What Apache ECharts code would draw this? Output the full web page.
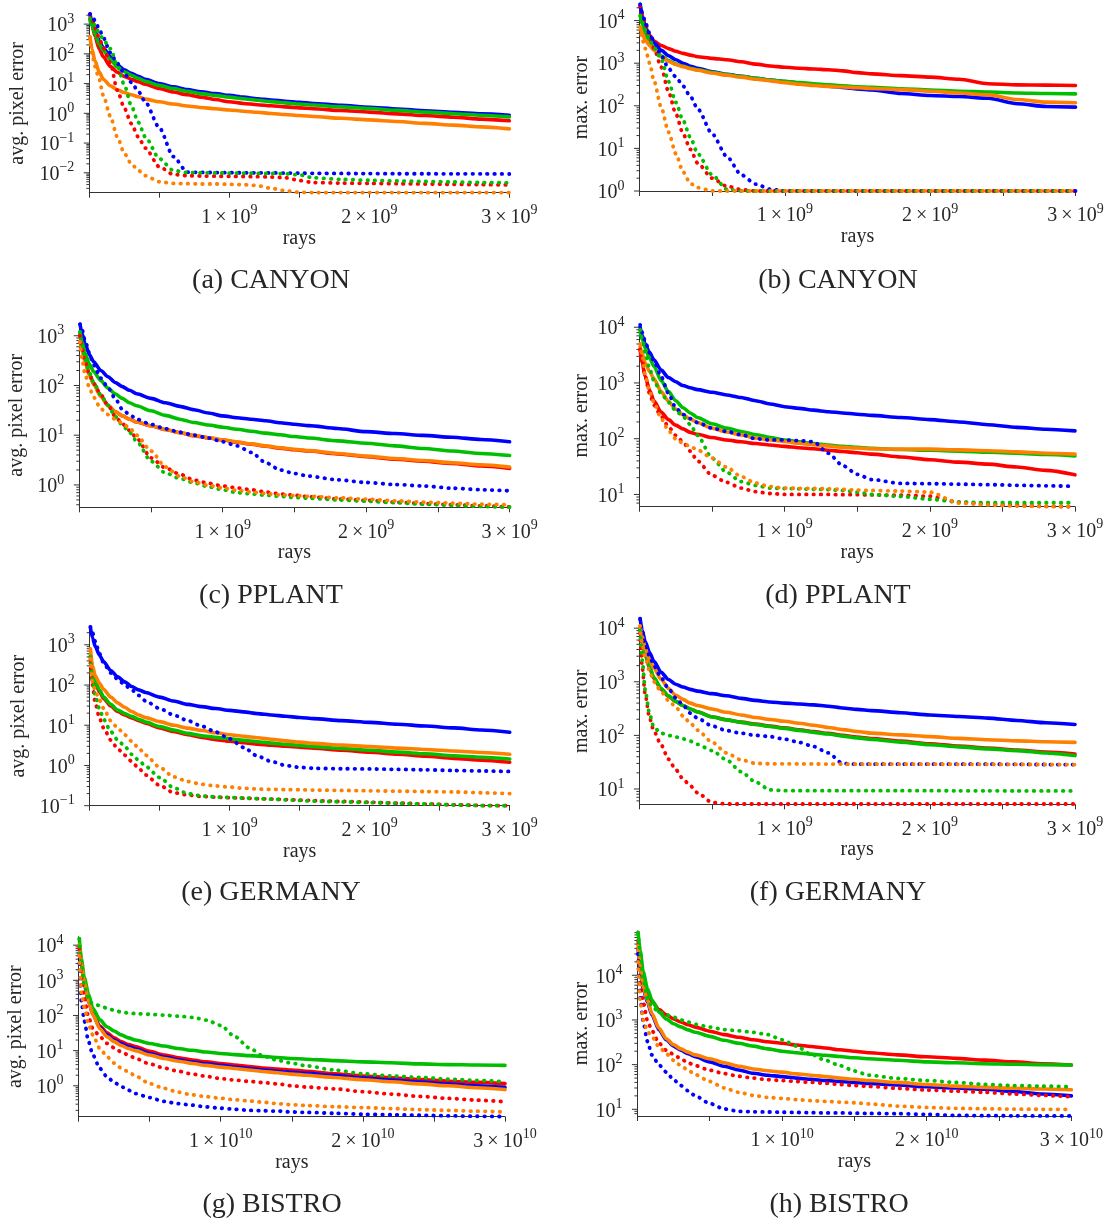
<!DOCTYPE html>
<html>
<head>
<meta charset="utf-8">
<script src="https://cdn.jsdelivr.net/npm/echarts@6/dist/echarts.min.js"></script>
<style>
  html, body { margin: 0; padding: 0; background: #fff; }
  #chart { width: 1107px; height: 1224px; }
</style>
</head>
<body>
<div id="chart"></div>
<script>
// Sample positions along the ray axis, in units of 1e9 rays (1e10 for BISTRO).
const RAY_STEPS = [0.005, 0.02, 0.04, 0.07, 0.1, 0.15, 0.2, 0.25, 0.3, 0.35,
                   0.4, 0.5, 0.6, 0.7, 0.8, 0.9, 1.0, 1.1, 1.2, 1.3,
                   1.4, 1.5, 1.6, 1.8, 2.0, 2.2, 2.4, 2.6, 2.8, 3.0];

// (a) CANYON - avg. pixel error
const canyonAvgRed       = [1500, 900, 400, 150, 80, 38, 24, 17.5, 14, 11.5, 9.5, 6.8, 5.2, 4.2, 3.5, 2.9, 2.45, 2.15, 1.95, 1.8, 1.65, 1.53, 1.42, 1.24, 1.1, 0.96, 0.84, 0.74, 0.64, 0.56];
const canyonAvgBlue      = [2200, 1100, 600, 280, 160, 80, 42, 29, 22, 17.5, 14, 10, 7.8, 6.3, 5.3, 4.6, 4.0, 3.5, 3.1, 2.8, 2.55, 2.35, 2.15, 1.85, 1.6, 1.4, 1.22, 1.08, 0.96, 0.86];
const canyonAvgGreen     = [1300, 900, 480, 220, 130, 65, 36, 25, 19, 15, 12, 8.7, 6.8, 5.5, 4.6, 4.0, 3.5, 3.1, 2.75, 2.48, 2.25, 2.06, 1.9, 1.65, 1.45, 1.26, 1.1, 0.97, 0.86, 0.76];
const canyonAvgOrange    = [380, 140, 60, 25, 14, 8.5, 6.2, 5.0, 4.2, 3.6, 3.0, 2.45, 2.05, 1.77, 1.57, 1.42, 1.3, 1.18, 1.08, 0.99, 0.91, 0.84, 0.78, 0.68, 0.6, 0.53, 0.46, 0.4, 0.35, 0.30];
const canyonAvgRedDot    = [2000, 1500, 750, 350, 160, 50, 6, 1.5, 0.45, 0.16, 0.068, 0.016, 0.0088, 0.008, 0.0078, 0.0077, 0.0076, 0.0075, 0.0074, 0.0072, 0.0068, 0.0055, 0.0047, 0.0045, 0.0044, 0.0043, 0.0042, 0.0041, 0.004, 0.0039];
const canyonAvgBlueDot   = [2200, 2000, 1300, 700, 350, 110, 48, 22, 11, 5.5, 2.4, 0.33, 0.035, 0.0105, 0.0103, 0.0102, 0.0101, 0.0100, 0.0100, 0.0099, 0.0098, 0.0097, 0.0096, 0.0095, 0.0094, 0.0093, 0.0093, 0.0092, 0.0092, 0.0091];
const canyonAvgGreenDot  = [1550, 1300, 900, 500, 300, 150, 40, 9, 1.8, 0.5, 0.16, 0.03, 0.012, 0.0102, 0.0100, 0.0099, 0.0098, 0.0097, 0.0096, 0.0095, 0.0093, 0.0085, 0.0068, 0.0060, 0.0056, 0.0053, 0.0051, 0.0049, 0.0047, 0.0046];
const canyonAvgOrangeDot = [350, 100, 38, 14, 4, 0.8, 0.16, 0.045, 0.02, 0.012, 0.008, 0.005, 0.0044, 0.0043, 0.0042, 0.0042, 0.0041, 0.004, 0.0037, 0.003, 0.0025, 0.0022, 0.00216, 0.00216, 0.00216, 0.00216, 0.00216, 0.00216, 0.00216, 0.00216];

// (b) CANYON - max. error
const canyonMaxRed       = [22000, 12000, 7000, 4500, 3300, 2600, 2200, 1900, 1700, 1550, 1420, 1300, 1200, 1080, 950, 860, 800, 760, 730, 700, 660, 600, 560, 510, 470, 420, 330, 310, 305, 300];
const canyonMaxBlue      = [24000, 12000, 7000, 4200, 3000, 2000, 1500, 1200, 1000, 850, 760, 630, 550, 490, 440, 400, 370, 340, 310, 290, 270, 250, 235, 195, 175, 165, 150, 112, 96, 93];
const canyonMaxGreen     = [13000, 8000, 5000, 3000, 2200, 1500, 1150, 950, 850, 760, 700, 610, 540, 490, 440, 400, 375, 350, 330, 310, 295, 280, 270, 250, 235, 220, 210, 200, 195, 190];
const canyonMaxOrange    = [7000, 4800, 3500, 2600, 2000, 1400, 1100, 930, 830, 740, 680, 590, 520, 470, 420, 385, 350, 320, 300, 285, 275, 265, 255, 240, 220, 200, 180, 140, 122, 118];
const canyonMaxRedDot    = [22000, 14000, 8000, 4000, 2200, 800, 210, 65, 22, 9.5, 4.5, 2.0, 1.3, 1.08, 1, 1, 1, 1, 1, 1, 1, 1, 1, 1, 1, 1, 1, 1, 1, 1];
const canyonMaxBlueDot   = [24000, 15000, 9000, 5000, 3200, 1500, 750, 480, 290, 165, 85, 22, 6.5, 2.4, 1.45, 1.1, 1, 1, 1, 1, 1, 1, 1, 1, 1, 1, 1, 1, 1, 1];
const canyonMaxGreenDot  = [13000, 9000, 6000, 3500, 2300, 1250, 370, 120, 45, 18, 7.5, 2.4, 1.1, 1, 1, 1, 1, 1, 1, 1, 1, 1, 1, 1, 1, 1, 1, 1, 1, 1];
const canyonMaxOrangeDot = [7000, 3500, 2200, 1000, 380, 90, 24, 7.5, 2.8, 1.5, 1.2, 1.0, 1, 1, 1, 1, 1, 1, 1, 1, 1, 1, 1, 1, 1, 1, 1, 1, 1, 1];

// (c) PPLANT - avg. pixel error
const pplantAvgRed       = [1100, 600, 330, 170, 110, 62, 40, 30, 24.5, 21, 18.5, 15.5, 13, 11.2, 9.8, 8.8, 8.0, 7.2, 6.6, 6.0, 5.5, 5.1, 4.8, 4.2, 3.7, 3.3, 3.0, 2.7, 2.4, 2.15];
const pplantAvgBlue      = [1700, 1100, 700, 420, 300, 200, 150, 115, 95, 80, 68, 55, 45, 38, 32.5, 28, 24.5, 22.5, 21, 19.5, 17.8, 16.6, 15.6, 13.6, 11.8, 10.8, 9.9, 9.1, 8.2, 7.4];
const pplantAvgGreen     = [1200, 750, 450, 270, 190, 125, 89, 68, 55, 45, 39, 31, 25, 21, 18, 16, 14.5, 13.2, 12, 11, 10.2, 9.4, 8.8, 7.7, 6.9, 6.1, 5.4, 4.8, 4.3, 3.9];
const pplantAvgOrange    = [800, 500, 300, 160, 105, 60, 39, 30, 24.5, 21, 18.5, 15.5, 13, 11.3, 9.9, 8.9, 8.1, 7.3, 6.7, 6.1, 5.6, 5.2, 4.9, 4.3, 3.8, 3.4, 3.1, 2.8, 2.55, 2.3];
const pplantAvgRedDot    = [1000, 550, 300, 170, 110, 65, 40, 24, 17, 12.5, 8.7, 3.5, 2.2, 1.65, 1.25, 1.08, 0.95, 0.87, 0.8, 0.72, 0.66, 0.62, 0.58, 0.52, 0.49, 0.45, 0.42, 0.4, 0.38, 0.36];
const pplantAvgBlueDot   = [1700, 1300, 800, 450, 260, 140, 90, 55, 33, 26, 21, 16.5, 13.5, 11.5, 10, 8.8, 7.4, 6.1, 4.5, 2.8, 2.0, 1.7, 1.5, 1.27, 1.12, 1.02, 0.95, 0.86, 0.8, 0.76];
const pplantAvgGreenDot  = [1200, 650, 350, 180, 115, 65, 40, 24, 16, 11.5, 7.5, 3.0, 1.75, 1.35, 1.1, 0.92, 0.8, 0.7, 0.66, 0.62, 0.59, 0.56, 0.54, 0.5, 0.47, 0.44, 0.41, 0.39, 0.37, 0.356];
const pplantAvgOrangeDot = [750, 320, 170, 90, 58, 34, 26, 21, 17.5, 14, 10, 4.8, 2.3, 1.5, 1.15, 0.98, 0.87, 0.78, 0.72, 0.67, 0.63, 0.61, 0.59, 0.55, 0.52, 0.48, 0.45, 0.43, 0.41, 0.40];

// (d) PPLANT - max. error
const pplantMaxRed       = [3900, 2200, 1300, 750, 480, 300, 220, 175, 150, 130, 120, 105, 95, 88, 82, 77, 73, 69, 66, 62, 59, 56, 53, 47, 42, 38, 35, 31, 27, 22.5];
const pplantMaxBlue      = [10000, 7000, 5000, 3500, 2600, 1700, 1250, 1050, 900, 820, 760, 680, 610, 550, 480, 420, 375, 350, 325, 305, 290, 275, 262, 240, 220, 200, 178, 160, 148, 138];
const pplantMaxGreen     = [8500, 6000, 4200, 2800, 2000, 1100, 700, 480, 360, 290, 240, 185, 155, 135, 118, 105, 95, 88, 82, 77, 73, 70, 67, 64, 62, 60, 57, 55, 52, 49];
const pplantMaxOrange    = [4500, 3300, 2300, 1600, 1200, 700, 470, 340, 270, 225, 195, 155, 132, 117, 103, 95, 89, 83, 78, 74, 70, 68, 66, 65, 65, 63, 61, 58, 55, 53];
const pplantMaxRedDot    = [4000, 2500, 1300, 650, 400, 250, 165, 115, 88, 60, 40, 22, 16.5, 13, 11.2, 10.4, 10, 10, 10, 10, 9.9, 9.9, 9.8, 9.7, 9.3, 7.3, 6.7, 6.4, 6.1, 6.05];
const pplantMaxBlueDot   = [11000, 8000, 5500, 3500, 2500, 1300, 650, 360, 270, 230, 195, 155, 135, 118, 100, 95, 95, 92, 88, 55, 33, 23, 18.5, 15.8, 15.6, 15.3, 15, 14.6, 14.3, 14];
const pplantMaxGreenDot  = [9000, 6000, 3500, 1800, 1100, 650, 450, 320, 250, 180, 115, 45, 25, 17, 14.5, 13, 12.8, 12.6, 12.4, 12.2, 11.8, 11, 10, 9.2, 8.2, 7.3, 7.1, 7.1, 7.1, 7.1];
const pplantMaxOrangeDot = [5000, 3000, 1400, 700, 450, 230, 140, 100, 83, 73, 63, 45, 31, 21, 16, 13.8, 13, 12.9, 12.8, 12.6, 12.3, 12, 11.8, 11.5, 11, 7.0, 6.5, 6.2, 6.1, 6.05];

// (e) GERMANY - avg. pixel error
const germanyAvgRed       = [500, 190, 110, 68, 46, 30, 22, 18, 15.3, 13, 11.2, 8.6, 7.0, 5.8, 5.0, 4.4, 4.0, 3.7, 3.4, 3.2, 3.0, 2.85, 2.7, 2.4, 2.15, 1.9, 1.7, 1.5, 1.35, 1.2];
const germanyAvgBlue      = [2700, 1500, 900, 550, 380, 230, 160, 120, 92, 76, 65, 50, 40, 33, 29, 26, 23.5, 21.5, 19.5, 18, 16.8, 15.6, 14.6, 13, 11.8, 10.6, 9.6, 8.6, 7.6, 6.7];
const germanyAvgGreen     = [600, 220, 120, 75, 50, 33, 24, 19.5, 16.6, 14, 12, 9.3, 7.6, 6.3, 5.5, 5.0, 4.6, 4.2, 3.9, 3.6, 3.35, 3.15, 2.95, 2.65, 2.4, 2.15, 1.95, 1.75, 1.6, 1.45];
const germanyAvgOrange    = [800, 300, 170, 110, 78, 50, 36, 28, 22, 18, 15.5, 12.3, 10, 8.5, 7.4, 6.5, 5.8, 5.3, 4.9, 4.5, 4.1, 3.8, 3.55, 3.2, 2.95, 2.7, 2.5, 2.3, 2.1, 1.9];
const germanyAvgRedDot    = [350, 100, 35, 15, 8.5, 4.3, 2.6, 1.8, 1.26, 0.85, 0.58, 0.32, 0.21, 0.185, 0.17, 0.162, 0.158, 0.154, 0.15, 0.146, 0.142, 0.138, 0.134, 0.128, 0.122, 0.116, 0.11, 0.105, 0.101, 0.1];
const germanyAvgBlueDot   = [2800, 2000, 1200, 600, 350, 200, 140, 100, 76, 55, 40, 26, 18, 13, 9.5, 6.8, 4.6, 2.8, 1.7, 1.25, 1.0, 0.9, 0.85, 0.83, 0.82, 0.8, 0.78, 0.75, 0.73, 0.71];
const germanyAvgGreenDot  = [500, 120, 55, 25, 14, 7, 4.3, 3.0, 1.9, 1.35, 0.95, 0.5, 0.28, 0.2, 0.175, 0.165, 0.16, 0.155, 0.15, 0.145, 0.14, 0.135, 0.13, 0.125, 0.12, 0.115, 0.11, 0.105, 0.101, 0.1];
const germanyAvgOrangeDot = [450, 120, 70, 42, 26, 13, 8.5, 5.8, 4, 2.7, 1.8, 0.9, 0.52, 0.4, 0.34, 0.31, 0.29, 0.27, 0.26, 0.255, 0.25, 0.25, 0.245, 0.24, 0.235, 0.23, 0.225, 0.22, 0.21, 0.2];

// (f) GERMANY - max. error
const germanyMaxRed       = [9500, 5500, 3200, 1800, 1150, 720, 540, 430, 360, 310, 275, 222, 196, 177, 162, 149, 138, 127, 118, 109, 100, 93, 87, 78, 70, 63, 58, 53, 49, 45];
const germanyMaxBlue      = [15000, 9000, 5600, 3500, 2400, 1500, 1100, 900, 800, 720, 670, 600, 550, 490, 450, 420, 400, 385, 370, 350, 325, 305, 290, 265, 240, 225, 210, 190, 172, 160];
const germanyMaxGreen     = [10000, 6000, 3400, 1900, 1200, 750, 550, 430, 360, 310, 275, 220, 195, 175, 160, 146, 135, 124, 114, 106, 97, 90, 84, 75, 67, 61, 56, 52, 47, 42];
const germanyMaxOrange    = [11000, 7000, 4200, 2600, 1800, 1100, 750, 560, 470, 400, 360, 310, 270, 240, 215, 198, 183, 168, 155, 140, 128, 118, 110, 102, 95, 88, 83, 79, 76, 74];
const germanyMaxRedDot    = [8000, 1800, 570, 210, 120, 66, 36, 23, 15.5, 11.5, 8.5, 5.6, 5.25, 5.25, 5.25, 5.25, 5.25, 5.25, 5.25, 5.25, 5.25, 5.25, 5.25, 5.25, 5.25, 5.25, 5.25, 5.25, 5.25, 5.25];
const germanyMaxBlueDot   = [15000, 9000, 5000, 3000, 2000, 1200, 750, 500, 370, 260, 210, 150, 123, 110, 100, 95, 85, 74, 62, 47, 30, 29, 29, 29, 29, 29, 29, 28.8, 28.6, 28.5];
const germanyMaxGreenDot  = [9000, 2500, 700, 250, 140, 110, 100, 93, 86, 78, 68, 52, 35, 21, 13.5, 9.6, 9.3, 9.3, 9.3, 9.3, 9.3, 9.3, 9.3, 9.3, 9.3, 9.25, 9.25, 9.2, 9.2, 9.2];
const germanyMaxOrangeDot = [11000, 5000, 2800, 1600, 1000, 650, 450, 340, 230, 170, 125, 75, 47, 35, 30, 29.5, 29.5, 29.4, 29.3, 29.2, 29.1, 29, 29, 29, 29, 28.9, 28.8, 28.7, 28.6, 28.5];

// (g) BISTRO - avg. pixel error
const bistroAvgRed       = [10000, 3000, 900, 270, 120, 50, 32, 23, 18, 15, 13, 9.5, 7.5, 6.3, 5.4, 4.8, 4.3, 3.9, 3.5, 3.2, 3.0, 2.8, 2.6, 2.2, 1.9, 1.7, 1.5, 1.35, 1.25, 1.15];
const bistroAvgBlue      = [6000, 2500, 800, 250, 110, 45, 28, 20, 16, 13, 11.2, 8.3, 6.6, 5.5, 4.7, 4.2, 3.8, 3.4, 3.1, 2.8, 2.6, 2.4, 2.25, 1.95, 1.65, 1.45, 1.28, 1.12, 1.0, 0.9];
const bistroAvgGreen     = [15500, 4000, 1200, 400, 160, 75, 48, 36, 28, 23, 20, 16, 13.5, 11.5, 10.2, 9.1, 8.3, 7.7, 7.2, 6.8, 6.4, 6.0, 5.7, 5.2, 4.8, 4.5, 4.2, 4.0, 3.9, 3.8];
const bistroAvgOrange    = [10000, 2800, 850, 250, 105, 42, 25, 18, 14, 11.5, 10, 7.5, 6.0, 5.0, 4.3, 3.8, 3.4, 3.1, 2.8, 2.55, 2.35, 2.15, 2.0, 1.72, 1.48, 1.3, 1.13, 1.0, 0.88, 0.78];
const bistroAvgRedDot    = [8000, 1200, 300, 90, 43, 25, 16, 12, 9.2, 7.5, 6.0, 4.2, 3.2, 2.6, 2.15, 1.85, 1.6, 1.45, 1.33, 1.23, 1.13, 1.0, 0.92, 0.82, 0.68, 0.58, 0.5, 0.44, 0.39, 0.35];
const bistroAvgBlueDot   = [3000, 250, 70, 18, 7.5, 3.1, 1.8, 1.25, 0.95, 0.75, 0.6, 0.46, 0.36, 0.31, 0.28, 0.25, 0.23, 0.215, 0.2, 0.195, 0.19, 0.18, 0.175, 0.165, 0.155, 0.15, 0.145, 0.14, 0.136, 0.133];
const bistroAvgGreenDot  = [15000, 3000, 700, 280, 210, 190, 160, 140, 125, 118, 113, 108, 102, 96, 88, 74, 52, 25, 12, 7, 5.3, 4.4, 3.7, 2.8, 2.2, 1.9, 1.72, 1.55, 1.42, 1.3];
const bistroAvgOrangeDot = [5000, 400, 170, 55, 28, 11.5, 6.7, 4.4, 3.2, 2.5, 1.9, 1.15, 0.85, 0.66, 0.55, 0.49, 0.44, 0.4, 0.37, 0.34, 0.31, 0.29, 0.275, 0.255, 0.24, 0.225, 0.21, 0.2, 0.19, 0.18];

// (h) BISTRO - max. error
const bistroMaxRed       = [60000, 25000, 9000, 4000, 2600, 1700, 1300, 1050, 900, 780, 690, 560, 470, 410, 360, 325, 300, 275, 255, 235, 215, 200, 185, 165, 150, 138, 126, 115, 105, 98];
const bistroMaxBlue      = [40000, 12000, 5000, 2500, 1300, 600, 360, 260, 210, 175, 150, 115, 92, 76, 64, 58, 54, 50, 47, 44, 42, 40, 38, 35, 32, 30, 28, 25, 22, 20];
const bistroMaxGreen     = [90000, 35000, 12000, 5000, 2800, 1500, 1050, 820, 700, 600, 530, 430, 350, 300, 260, 225, 200, 185, 172, 162, 152, 142, 135, 125, 115, 110, 105, 102, 100, 98];
const bistroMaxOrange    = [45000, 14000, 5500, 2700, 1400, 650, 380, 280, 225, 190, 165, 135, 110, 92, 80, 73, 68, 62, 58, 54, 50, 47, 44, 40, 36, 33, 31, 29.5, 28.5, 27.5];
const bistroMaxRedDot    = [30000, 6000, 2500, 950, 580, 300, 210, 170, 135, 110, 95, 75, 63, 55, 50, 46, 44, 42, 40, 38, 36, 34, 32.5, 29.5, 27, 25.5, 24, 22, 20.5, 19];
const bistroMaxBlueDot   = [30000, 3000, 900, 330, 165, 98, 68, 46, 34, 26, 20, 13.5, 10.2, 9.0, 8.8, 8.7, 8.6, 8.5, 8.4, 8.3, 8.3, 8.2, 8.1, 8.0, 7.7, 7.3, 7.2, 7.15, 7.1, 7.1];
const bistroMaxGreenDot  = [90000, 30000, 8000, 3000, 2000, 1500, 1300, 1150, 1000, 900, 800, 690, 610, 570, 530, 470, 360, 260, 170, 125, 95, 72, 58, 49, 44, 40, 36, 34, 33, 32];
const bistroMaxOrangeDot = [20000, 2500, 1000, 550, 420, 250, 175, 125, 95, 75, 60, 42, 30, 24, 20.5, 18.5, 17.5, 16.5, 15.6, 15, 14.5, 14, 13.2, 11.8, 11, 10.5, 10.3, 10.1, 10, 10];

// Panel labels and axis names
const PANEL_TITLES = ['(a) CANYON', '(b) CANYON', '(c) PPLANT', '(d) PPLANT',
                      '(e) GERMANY', '(f) GERMANY', '(g) BISTRO', '(h) BISTRO'];
const Y_NAMES = ['avg. pixel error', 'max. error'];
const X_NAME = 'rays';

// ---------------------------------------------------------------------------
const FONT = '"Liberation Serif", "DejaVu Serif", serif';
const TEXT = '#262626';
const AXIS = '#333333';
const COLORS = { red: '#ff0000', blue: '#0000ff', green: '#00bf00', orange: '#ff8000' };

const panelSeries = [
  { red: canyonAvgRed, blue: canyonAvgBlue, green: canyonAvgGreen, orange: canyonAvgOrange,
    redDot: canyonAvgRedDot, blueDot: canyonAvgBlueDot, greenDot: canyonAvgGreenDot, orangeDot: canyonAvgOrangeDot },
  { red: canyonMaxRed, blue: canyonMaxBlue, green: canyonMaxGreen, orange: canyonMaxOrange,
    redDot: canyonMaxRedDot, blueDot: canyonMaxBlueDot, greenDot: canyonMaxGreenDot, orangeDot: canyonMaxOrangeDot },
  { red: pplantAvgRed, blue: pplantAvgBlue, green: pplantAvgGreen, orange: pplantAvgOrange,
    redDot: pplantAvgRedDot, blueDot: pplantAvgBlueDot, greenDot: pplantAvgGreenDot, orangeDot: pplantAvgOrangeDot },
  { red: pplantMaxRed, blue: pplantMaxBlue, green: pplantMaxGreen, orange: pplantMaxOrange,
    redDot: pplantMaxRedDot, blueDot: pplantMaxBlueDot, greenDot: pplantMaxGreenDot, orangeDot: pplantMaxOrangeDot },
  { red: germanyAvgRed, blue: germanyAvgBlue, green: germanyAvgGreen, orange: germanyAvgOrange,
    redDot: germanyAvgRedDot, blueDot: germanyAvgBlueDot, greenDot: germanyAvgGreenDot, orangeDot: germanyAvgOrangeDot },
  { red: germanyMaxRed, blue: germanyMaxBlue, green: germanyMaxGreen, orange: germanyMaxOrange,
    redDot: germanyMaxRedDot, blueDot: germanyMaxBlueDot, greenDot: germanyMaxGreenDot, orangeDot: germanyMaxOrangeDot },
  { red: bistroAvgRed, blue: bistroAvgBlue, green: bistroAvgGreen, orange: bistroAvgOrange,
    redDot: bistroAvgRedDot, blueDot: bistroAvgBlueDot, greenDot: bistroAvgGreenDot, orangeDot: bistroAvgOrangeDot },
  { red: bistroMaxRed, blue: bistroMaxBlue, green: bistroMaxGreen, orange: bistroMaxOrange,
    redDot: bistroMaxRedDot, blueDot: bistroMaxBlueDot, greenDot: bistroMaxGreenDot, orangeDot: bistroMaxOrangeDot }
];

// Plot rectangles [left, top, width, height], y ranges, name gaps, title anchors
const layout = [
  { rect: [89.3, 14, 420, 178.7],    yMin: 0.00214, yMax: 2188,   exp: 9,  yGap: 62, title: [271, 281] },
  { rect: [639.5, 4, 436, 187],      yMin: 1,       yMax: 24500,  exp: 9,  yGap: 48, title: [838, 281] },
  { rect: [79.3, 323.3, 430.3, 184], yMin: 0.355,   yMax: 1780,   exp: 9,  yGap: 53, title: [271, 596] },
  { rect: [639.4, 325, 435.6, 181.7],yMin: 6.03,    yMax: 10960,  exp: 9,  yGap: 48, title: [838, 596] },
  { rect: [89.7, 626.7, 420, 179],   yMin: 0.1,     yMax: 2820,   exp: 9,  yGap: 61, title: [271, 893] },
  { rect: [639.4, 618.3, 435.6, 186],yMin: 5.18,    yMax: 15280,  exp: 9,  yGap: 48, title: [838, 893] },
  { rect: [78.6, 936.7, 426.4, 180], yMin: 0.132,   yMax: 17400,  exp: 10, yGap: 53, title: [272, 1205] },
  { rect: [637.4, 931, 434, 185],    yMin: 7.08,    yMax: 98000,  exp: 10, yGap: 46, title: [839, 1205] }
];

const richNum = {
  b: { fontFamily: FONT, fontSize: 20, color: TEXT, lineHeight: 24, verticalAlign: 'bottom' },
  s: { fontFamily: FONT, fontSize: 14, color: TEXT, lineHeight: 13, verticalAlign: 'top' }
};

function logTickValues(min, max) {
  const out = [];
  for (let n = Math.floor(Math.log10(min)); n <= Math.ceil(Math.log10(max)); n++) {
    for (let k = 1; k <= 9; k++) {
      const v = k * Math.pow(10, n);
      if (v >= min * 0.9999 && v <= max * 1.0001) out.push([0, v, k === 1 ? 1 : 0]);
    }
  }
  return out;
}

const grids = [], xAxes = [], yAxes = [], series = [], graphics = [];

layout.forEach((L, i) => {
  const unit = Math.pow(10, L.exp);
  grids.push({ left: L.rect[0], top: L.rect[1], width: L.rect[2], height: L.rect[3],
               containLabel: false, outerBoundsMode: 'none' });

  xAxes.push({
    type: 'value', gridIndex: i, min: 0, max: 3 * unit, interval: 0.5 * unit,
    axisLine: { show: true, onZero: false, lineStyle: { color: AXIS, width: 1 } },
    axisTick: { show: true, length: 5, lineStyle: { color: AXIS, width: 1 } },
    splitLine: { show: false },
    axisLabel: {
      margin: 11,
      formatter: (v) => {
        const k = Math.round(v / unit);
        if (k === 0 || Math.abs(v / unit - k) > 1e-9) return '';
        return '{b|' + k + '\u2009\u00d7\u200910}{s|' + L.exp + '}';
      },
      rich: richNum
    },
    name: X_NAME, nameLocation: 'middle', nameGap: 33,
    nameTextStyle: { fontFamily: FONT, fontSize: 20, color: TEXT }
  });

  yAxes.push({
    type: 'log', logBase: 10, gridIndex: i, min: L.yMin, max: L.yMax,
    axisLine: { show: true, lineStyle: { color: AXIS, width: 1 } },
    axisTick: { show: false },
    minorTick: { show: false },
    splitLine: { show: false },
    axisLabel: {
      margin: 15,
      formatter: (v) => {
        const e = Math.log10(v);
        const r = Math.round(e);
        if (Math.abs(e - r) > 1e-6) return '';
        return '{b|10}{s|' + (r < 0 ? '\u2212' + (-r) : r) + '}';
      },
      rich: richNum
    },
    name: Y_NAMES[i % 2], nameLocation: 'middle', nameGap: L.yGap,
    nameTextStyle: { fontFamily: FONT, fontSize: 20, color: TEXT }
  });

  // decade and sub-decade tick marks on the log axis
  series.push({
    type: 'custom', xAxisIndex: i, yAxisIndex: i, silent: true, clip: false, z: 3,
    data: logTickValues(L.yMin, L.yMax),
    renderItem: (params, api) => {
      const p = api.coord([api.value(0), api.value(1)]);
      const len = api.value(2) ? 5.5 : 3;
      return { type: 'line', shape: { x1: p[0] - len, y1: p[1], x2: p[0], y2: p[1] },
               style: { stroke: AXIS, lineWidth: 1 } };
    }
  });

  const S = panelSeries[i];
  const addLine = (values, color, dotted) => {
    series.push({
      type: 'line', xAxisIndex: i, yAxisIndex: i, silent: true, clip: false,
      data: RAY_STEPS.map((s, j) => [s * unit, values[j]]),
      showSymbol: false, symbol: 'none',
      smooth: 0.25, smoothMonotone: 'x',
      lineStyle: dotted
        ? { color, width: 3.8, type: [0.5, 6.8], cap: 'round', join: 'round' }
        : { color, width: 3.6, type: 'solid', cap: 'round', join: 'round' },
      z: dotted ? 5 : 4
    });
  };
  ['red', 'blue', 'green', 'orange'].forEach(c => addLine(S[c], COLORS[c], false));
  ['red', 'blue', 'green', 'orange'].forEach(c => addLine(S[c + 'Dot'], COLORS[c], true));

  graphics.push({
    type: 'text', x: L.title[0], y: L.title[1], silent: true,
    style: { text: PANEL_TITLES[i], fontFamily: FONT, fontSize: 28, fill: TEXT,
             align: 'center', verticalAlign: 'middle' }
  });
});

const chart = echarts.init(document.getElementById('chart'), null, { renderer: 'canvas' });
chart.setOption({
  animation: false,
  backgroundColor: '#ffffff',
  textStyle: { fontFamily: FONT },
  grid: grids,
  xAxis: xAxes,
  yAxis: yAxes,
  series: series,
  graphic: graphics
});
</script>
</body>
</html>
